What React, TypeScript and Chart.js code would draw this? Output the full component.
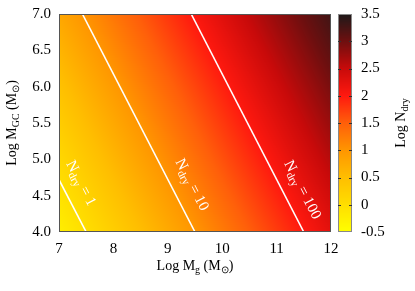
import React, { useEffect, useRef } from "react";
import { Chart, registerables } from "chart.js";

Chart.register(...registerables);

// ---- data ----
const xGrid = [7, 8, 9, 10, 11, 12];
const yGrid = [4, 5, 6, 7];
// Log N_dry read at grid nodes (rows follow yGrid, columns follow xGrid)
const logNdryRow4 = [-0.25, 0.25, 0.75, 1.25, 1.75, 2.25];
const logNdryRow5 = [0.1, 0.6, 1.1, 1.6, 2.1, 2.6];
const logNdryRow6 = [0.44, 0.94, 1.44, 1.94, 2.44, 2.94];
const logNdryRow7 = [0.79, 1.29, 1.79, 2.29, 2.79, 3.29];
const logNdryGrid = [logNdryRow4, logNdryRow5, logNdryRow6, logNdryRow7];

// contour lines N_dry = 1, 10, 100
const contour1 = [{ x: 7.0, y: 4.72 }, { x: 7.5, y: 4.0 }];
const contour10 = [{ x: 7.43, y: 7.0 }, { x: 9.5, y: 4.0 }];
const contour100 = [{ x: 9.43, y: 7.0 }, { x: 11.5, y: 4.0 }];
const contourLabels = ["1", "10", "100"];
const contourLabelX = [7.4, 9.44, 11.47];
const contourLabelY = [4.67, 4.65, 4.58];

const xTicks = [7, 8, 9, 10, 11, 12];
const yTicks = [4.0, 4.5, 5.0, 5.5, 6.0, 6.5, 7.0];
const cbTicks = [-0.5, 0, 0.5, 1, 1.5, 2, 2.5, 3, 3.5];
const cbMin = -0.5;
const cbMax = 3.5;

// colour palette stops
const paletteValues = [-0.5, 0.0, 0.5, 1.0, 1.5, 2.0, 2.5, 3.0, 3.5];
const paletteColors = [
  [255, 255, 0],
  [255, 222, 0],
  [255, 190, 0],
  [255, 150, 0],
  [255, 95, 10],
  [255, 25, 15],
  [200, 10, 10],
  [110, 15, 15],
  [30, 25, 25],
];

const FONT = '"Liberation Serif", "Times New Roman", serif';
const TICK_SIZE = 15;
const TITLE_SIZE = 14;
const CONTOUR_LABEL_SIZE = 15;

function colorFor(v: number): number[] {
  if (v <= paletteValues[0]) return paletteColors[0];
  const n = paletteValues.length;
  if (v >= paletteValues[n - 1]) return paletteColors[n - 1];
  for (let i = 0; i < n - 1; i++) {
    if (v <= paletteValues[i + 1]) {
      const t = (v - paletteValues[i]) / (paletteValues[i + 1] - paletteValues[i]);
      const a = paletteColors[i], b = paletteColors[i + 1];
      return [a[0] + (b[0] - a[0]) * t, a[1] + (b[1] - a[1]) * t, a[2] + (b[2] - a[2]) * t];
    }
  }
  return paletteColors[n - 1];
}

function idx(arr: number[], v: number) {
  let i = 0;
  while (i < arr.length - 2 && v > arr[i + 1]) i++;
  const t = (v - arr[i]) / (arr[i + 1] - arr[i]);
  return { i, t: Math.max(0, Math.min(1, t)) };
}

function valueAt(x: number, y: number) {
  const a = idx(xGrid, x);
  const b = idx(yGrid, y);
  const v00 = logNdryGrid[b.i][a.i];
  const v10 = logNdryGrid[b.i][a.i + 1];
  const v01 = logNdryGrid[b.i + 1][a.i];
  const v11 = logNdryGrid[b.i + 1][a.i + 1];
  return (
    v00 * (1 - a.t) * (1 - b.t) +
    v10 * a.t * (1 - b.t) +
    v01 * (1 - a.t) * b.t +
    v11 * a.t * b.t
  );
}

type Part = { t: string; sub?: boolean };

function drawRich(ctx: CanvasRenderingContext2D, parts: Part[], x: number, y: number, align: "center" | "left", size = 13) {
  const subSize = Math.round(size * 0.7);
  let total = 0;
  const widths: number[] = [];
  for (const p of parts) {
    ctx.font = `${p.sub ? subSize : size}px ${FONT}`;
    const w = ctx.measureText(p.t).width;
    widths.push(w);
    total += w;
  }
  let cx = align === "center" ? x - total / 2 : x;
  ctx.textAlign = "left";
  ctx.textBaseline = "middle";
  parts.forEach((p, i) => {
    ctx.font = `${p.sub ? subSize : size}px ${FONT}`;
    ctx.fillText(p.t, cx, y + (p.sub ? size * 0.3 : 0));
    cx += widths[i];
  });
}

const heatmapPlugin = {
  id: "heatmap",
  beforeDatasetsDraw(chart: any) {
    const { ctx, chartArea } = chart;
    const xs = chart.scales.x, ys = chart.scales.y;
    const w = Math.round(chartArea.right - chartArea.left);
    const h = Math.round(chartArea.bottom - chartArea.top);
    const off = document.createElement("canvas");
    off.width = w;
    off.height = h;
    const octx = off.getContext("2d")!;
    const img = octx.createImageData(w, h);
    for (let py = 0; py < h; py++) {
      const yv = ys.getValueForPixel(chartArea.top + py + 0.5);
      for (let px = 0; px < w; px++) {
        const xv = xs.getValueForPixel(chartArea.left + px + 0.5);
        const c = colorFor(valueAt(xv, yv));
        const k = (py * w + px) * 4;
        img.data[k] = c[0];
        img.data[k + 1] = c[1];
        img.data[k + 2] = c[2];
        img.data[k + 3] = 255;
      }
    }
    octx.putImageData(img, 0, 0);
    ctx.save();
    ctx.drawImage(off, chartArea.left, chartArea.top);
    ctx.restore();
  },
  afterDatasetsDraw(chart: any) {
    const { ctx, chartArea } = chart;
    const xs = chart.scales.x, ys = chart.scales.y;
    const lines = [contour1, contour10, contour100];
    ctx.save();
    ctx.fillStyle = "#ffffff";
    contourLabels.forEach((lab, i) => {
      const l = lines[i];
      const dx = xs.getPixelForValue(l[1].x) - xs.getPixelForValue(l[0].x);
      const dy = ys.getPixelForValue(l[1].y) - ys.getPixelForValue(l[0].y);
      const ang = Math.atan2(dy, dx);
      const cx = xs.getPixelForValue(contourLabelX[i]);
      const cy = ys.getPixelForValue(contourLabelY[i]);
      ctx.save();
      ctx.translate(cx, cy);
      ctx.rotate(ang);
      drawRich(ctx, [{ t: "N" }, { t: "dry", sub: true }, { t: " = " + lab }], 0, 0, "center", CONTOUR_LABEL_SIZE);
      ctx.restore();
    });
    // frame
    ctx.strokeStyle = "#555555";
    ctx.lineWidth = 1;
    ctx.strokeRect(chartArea.left + 0.5, chartArea.top + 0.5, chartArea.right - chartArea.left - 1, chartArea.bottom - chartArea.top - 1);

    // colour bar
    const cbL = chartArea.right + 7;
    const cbW = 14;
    const top = chartArea.top, bot = chartArea.bottom;
    const vToY = (v: number) => bot - ((v - cbMin) / (cbMax - cbMin)) * (bot - top);
    for (let py = Math.floor(top); py < bot; py++) {
      const v = cbMin + ((bot - (py + 0.5)) / (bot - top)) * (cbMax - cbMin);
      const c = colorFor(v);
      ctx.fillStyle = `rgb(${c[0]},${c[1]},${c[2]})`;
      ctx.fillRect(cbL, py, cbW, 1);
    }
    ctx.strokeStyle = "#888888";
    ctx.strokeRect(cbL + 0.5, top + 0.5, cbW - 1, bot - top - 1);
    ctx.strokeStyle = "#333333";
    ctx.fillStyle = "#000000";
    ctx.font = `${TICK_SIZE}px ${FONT}`;
    ctx.textAlign = "left";
    ctx.textBaseline = "middle";
    cbTicks.forEach((t) => {
      const y = Math.round(vToY(t)) + 0.5;
      if (t !== cbMin && t !== cbMax) {
        ctx.beginPath();
        ctx.moveTo(cbL, y);
        ctx.lineTo(cbL + 3, y);
        ctx.moveTo(cbL + cbW - 3, y);
        ctx.lineTo(cbL + cbW, y);
        ctx.stroke();
      }
      ctx.fillText(String(t), cbL + cbW + 9, vToY(t));
    });
    // titles
    ctx.fillStyle = "#000000";
    const midX = (chartArea.left + chartArea.right) / 2;
    const midY = (chartArea.top + chartArea.bottom) / 2;
    drawRich(ctx, [{ t: "Log M" }, { t: "g", sub: true }, { t: " (M" }, { t: "\u2299", sub: true }, { t: ")" }], midX, 266, "center", TITLE_SIZE);
    ctx.save();
    ctx.translate(12, midY);
    ctx.rotate(-Math.PI / 2);
    drawRich(ctx, [{ t: "Log M" }, { t: "GC", sub: true }, { t: " (M" }, { t: "\u2299", sub: true }, { t: ")" }], 0, 0, "center", TITLE_SIZE);
    ctx.restore();
    ctx.save();
    ctx.translate(401, midY);
    ctx.rotate(-Math.PI / 2);
    drawRich(ctx, [{ t: "Log N" }, { t: "dry", sub: true }], 0, 0, "center", TITLE_SIZE);
    ctx.restore();
    ctx.restore();
  },
};

export default function App() {
  const ref = useRef<HTMLCanvasElement>(null);
  useEffect(() => {
    if (!ref.current) return;
    const lineDs = (data: { x: number; y: number }[]) => ({
      data,
      showLine: true,
      borderColor: "#ffffff",
      borderWidth: 1.6,
      pointRadius: 0,
      fill: false,
    });
    const chart = new Chart(ref.current, {
      type: "scatter",
      data: { datasets: [lineDs(contour1), lineDs(contour10), lineDs(contour100)] as any },
      options: {
        animation: false,
        responsive: false,
        devicePixelRatio: 1,
        layout: { padding: { top: 14, right: 84, left: 0, bottom: 0 } },
        plugins: { legend: { display: false }, tooltip: { enabled: false } },
        scales: {
          x: {
            type: "linear",
            min: xTicks[0],
            max: xTicks[xTicks.length - 1],
            afterBuildTicks: (s: any) => { s.ticks = xTicks.map((v) => ({ value: v })); },
            ticks: { color: "#000", font: { family: FONT, size: TICK_SIZE }, padding: 0, maxRotation: 0, callback: (v: any) => String(v) },
            grid: { display: false },
            border: { display: false },
            afterFit: (s: any) => { s.height = 59; },
          },
          y: {
            type: "linear",
            min: yTicks[0],
            max: yTicks[yTicks.length - 1],
            afterBuildTicks: (s: any) => { s.ticks = yTicks.map((v) => ({ value: v })); },
            ticks: { color: "#000", font: { family: FONT, size: TICK_SIZE }, padding: 0, callback: (v: any) => Number(v).toFixed(1) },
            grid: { display: false },
            border: { display: false },
            afterFit: (s: any) => { s.width = 59; },
          },
        },
      },
      plugins: [heatmapPlugin],
    });
    return () => chart.destroy();
  }, []);
  return (
    <div style={{ position: "fixed", left: 0, top: 0, width: 415, height: 291, background: "#fff" }}>
      <canvas ref={ref} width={415} height={291} style={{ width: 415, height: 291 }} />
    </div>
  );
}
